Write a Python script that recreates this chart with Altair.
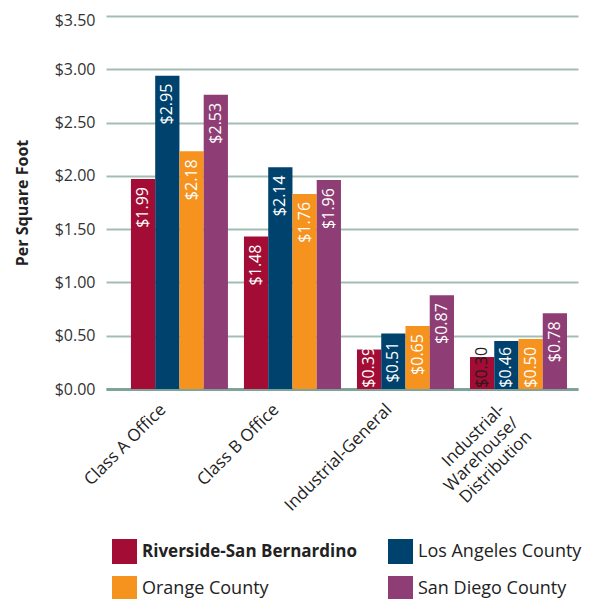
import altair as alt
import pandas as pd

categories = ["Class A Office", "Class B Office", "Industrial-General",
              "Industrial-|Warehouse/|Distribution"]
series = ["Riverside-San Bernardino", "Los Angeles County", "Orange County", "San Diego County"]
colors = ["#a20c35", "#00426e", "#f6921e", "#8e3e74"]
# legend reading order (two columns, filled top to bottom)
legend_order = ["Riverside-San Bernardino", "Orange County", "Los Angeles County", "San Diego County"]
legend_colors = ["#a20c35", "#f6921e", "#00426e", "#8e3e74"]

# bar heights as drawn in the picture
riverside = [1.97, 1.43, 0.37, 0.30]
los_angeles = [2.94, 2.08, 0.52, 0.45]
orange = [2.23, 1.83, 0.59, 0.47]
san_diego = [2.76, 1.96, 0.88, 0.71]

# label text as printed in the picture
riverside_lbl = ["$1.99", "$1.48", "$0.39", "$0.30"]
los_angeles_lbl = ["$2.95", "$2.14", "$0.51", "$0.46"]
orange_lbl = ["$2.18", "$1.76", "$0.65", "$0.50"]
san_diego_lbl = ["$2.53", "$1.96", "$0.87", "$0.78"]

y_ticks = [0, 0.5, 1.0, 1.5, 2.0, 2.5, 3.0, 3.5]

rows = []
for s, vals, lbls in zip(series, [riverside, los_angeles, orange, san_diego],
                         [riverside_lbl, los_angeles_lbl, orange_lbl, san_diego_lbl]):
    for c, v, l in zip(categories, vals, lbls):
        rows.append({"cat": c, "series": s, "h": v, "label": l})
df = pd.DataFrame(rows)

FONT = "Open Sans"

x_enc = alt.X("cat:N", sort=categories,
              scale=alt.Scale(paddingInner=0.1416, paddingOuter=0.159, align=0.694),
              axis=alt.Axis(title=None, labelAngle=315, labelAlign="right", labelBaseline="top",
                            labelFont=FONT, labelFontSize=17, labelColor="#222222",
                            labelPadding=12, labelOffset=-22, ticks=False,
                            domainColor="#7fa399", domainWidth=3,
                            labelExpr="split(datum.label, '|')", labelLineHeight=19))
xo_enc = alt.XOffset("series:N", sort=series, scale=alt.Scale(paddingInner=0, paddingOuter=0))

bars = alt.Chart(df).mark_bar(strokeWidth=0).encode(
    x=x_enc,
    xOffset=xo_enc,
    y=alt.Y("h:Q", scale=alt.Scale(domain=[0, 3.5], nice=False),
            axis=alt.Axis(title="Per Square Foot", values=y_ticks, format="$.2f",
                          labelFont=FONT, labelFontSize=16, labelColor="#333333",
                          labelPadding=11, ticks=False, domain=False,
                          labelOffset={"condition": {"test": "datum.value >= 3.5", "value": 4},
                                       "value": 0},
                          gridColor="#a3bdb4", gridWidth=2,
                          titleFont=FONT, titleFontSize=16, titleFontWeight="bold",
                          titleColor="#222222", titlePadding=24)),
    color=alt.Color("series:N",
                    scale=alt.Scale(domain=legend_order, range=legend_colors),
                    legend=alt.Legend(title=None, orient="none", legendX=6, legendY=523,
                                      columns=2, columnPadding=31, rowPadding=12,
                                      symbolType="square", symbolSize=625, symbolStrokeWidth=0,
                                      symbolOpacity=1,
                                      labelFont=FONT, labelColor="#222222",
                                      labelOffset=5, labelLimit=400,
                                      labelFontSize=alt.ExprRef(
                                          "datum.label == 'Riverside-San Bernardino' ? 17 : 18"),
                                      labelFontWeight=alt.ExprRef(
                                          "datum.label == 'Riverside-San Bernardino' ? 'bold' : 'normal'"))),
)

texts = alt.Chart(df).transform_calculate(
    ly="max(datum.h, 0.47)"
).mark_text(angle=270, align="right", baseline="middle", dx=-8,
            font=FONT, fontSize=16).encode(
    x=alt.X("cat:N", sort=categories),
    xOffset=alt.XOffset("series:N", sort=series),
    y=alt.Y("ly:Q"),
    text="label:N",
    color=alt.condition("datum.h < 0.35", alt.value("#2a1a1a"), alt.value("#ffffff")),
)

chart = alt.layer(bars, texts).properties(
    width=472, height=373,
    autosize=alt.AutoSizeParams(type="none"),
    padding={"left": 98, "top": 8, "right": 27, "bottom": 211},
).configure_view(strokeWidth=0)

chart.save("out.html", embed_options={"renderer": "svg", "actions": False})
